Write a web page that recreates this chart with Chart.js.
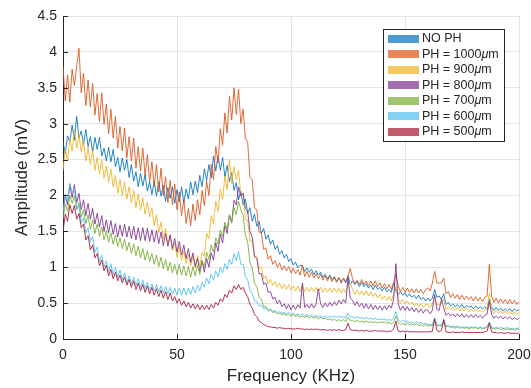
<!DOCTYPE html>
<html>
<head>
<meta charset="utf-8">
<script src="https://cdn.jsdelivr.net/npm/chart.js@4.4.1/dist/chart.umd.min.js"></script>
<style>
html, body { margin: 0; padding: 0; background: #fff; }
#wrap { width: 531px; height: 388px; }
</style>
</head>
<body>
<div id="wrap"><canvas id="ampChart" width="531" height="388"></canvas></div>
<script>
// frequency axis, KHz (one sample per KHz)
var freqKHz = [
	0,1,2,3,4,5,6,7,8,9,10,11,12,13,14,15,16,17,18,19,
	20,21,22,23,24,25,26,27,28,29,30,31,32,33,34,35,36,37,38,39,
	40,41,42,43,44,45,46,47,48,49,50,51,52,53,54,55,56,57,58,59,
	60,61,62,63,64,65,66,67,68,69,70,71,72,73,74,75,76,77,78,79,
	80,81,82,83,84,85,86,87,88,89,90,91,92,93,94,95,96,97,98,99,
	100,101,102,103,104,105,106,107,108,109,110,111,112,113,114,115,116,117,118,119,
	120,121,122,123,124,125,126,127,128,129,130,131,132,133,134,135,136,137,138,139,
	140,141,142,143,144,145,146,147,148,149,150,151,152,153,154,155,156,157,158,159,
	160,161,162,163,164,165,166,167,168,169,170,171,172,173,174,175,176,177,178,179,
	180,181,182,183,184,185,186,187,188,189,190,191,192,193,194,195,196,197,198,199,200
];

var seriesNames = ["NO PH", "PH = 1000\u03bcm", "PH = 900\u03bcm", "PH = 800\u03bcm", "PH = 700\u03bcm", "PH = 600\u03bcm", "PH = 500\u03bcm"];

// amplitudes in mV
var ampNoPh = [
	2.75,2.58,2.83,2.75,2.98,2.77,3.10,2.80,2.90,2.71, 2.92,2.68,2.82,2.60,2.81,2.64,2.81,2.55,2.66,2.48,
	2.67,2.47,2.64,2.40,2.53,2.33,2.52,2.35,2.50,2.25, 2.43,2.20,2.33,2.12,2.31,2.13,2.29,2.06,2.19,2.01,
	2.20,1.99,2.19,1.99,2.14,1.92,2.11,1.96,2.12,1.89, 2.08,1.91,2.12,1.90,2.09,1.95,2.19,2.01,2.20,2.04,
	2.28,2.12,2.37,2.21,2.43,2.25,2.55,2.34,2.55,2.35, 2.53,2.26,2.42,2.19,2.32,2.07,2.18,1.94,2.06,1.87,
	1.95,1.75,1.83,1.64,1.74,1.57,1.64,1.47,1.54,1.39, 1.45,1.32,1.38,1.25,1.30,1.18,1.23,1.13,1.18,1.08,
	1.12,1.03,1.07,0.99,1.03,1.02,0.94,0.99,0.93,0.97, 0.90,0.95,0.89,0.93,0.86,0.90,0.84,0.89,0.83,0.87,
	0.80,0.85,0.80,0.84,0.78,0.88,0.76,0.81,0.76,0.80, 0.73,0.79,0.73,0.77,0.71,0.75,0.69,0.75,0.69,0.72,
	0.67,0.72,0.66,0.69,0.65,0.78,0.67,0.62,0.66,0.61, 0.64,0.59,0.63,0.58,0.61,0.56,0.61,0.55,0.58,0.53,
	0.57,0.53,0.57,0.69,0.58,0.60,0.55,0.63,0.48,0.51, 0.46,0.49,0.45,0.48,0.44,0.48,0.43,0.47,0.44,0.46,
	0.42,0.46,0.42,0.45,0.42,0.45,0.41,0.55,0.44,0.40, 0.44,0.40,0.43,0.39,0.42,0.39,0.42,0.38,0.42,0.39,0.41
];
var amp1000 = [
	3.80,3.32,3.68,3.30,3.76,3.53,3.80,4.05,3.43,3.70, 3.25,3.61,3.23,3.56,3.12,3.42,3.03,3.43,2.99,3.27,
	2.86,3.20,2.80,3.10,2.66,2.96,2.62,2.94,2.52,2.82, 2.48,2.80,2.38,2.68,2.34,2.66,2.27,2.57,2.19,2.47,
	2.13,2.43,2.05,2.38,2.00,2.26,1.90,2.21,1.87,2.16, 1.80,2.05,1.72,1.94,1.61,1.82,1.58,1.88,1.65,1.94,
	1.73,2.07,1.86,2.20,2.00,2.43,2.22,2.68,2.45,2.93, 2.70,3.15,2.87,3.38,3.05,3.50,3.13,3.48,3.00,3.20,
	2.80,2.74,2.25,2.22,1.82,1.80,1.49,1.48,1.25,1.27, 1.11,1.16,1.04,1.09,1.00,1.06,0.96,1.02,0.95,1.01,
	0.92,0.99,0.91,0.97,0.89,1.03,0.87,0.94,0.86,0.93, 0.85,0.91,0.84,0.90,0.82,0.88,0.81,0.88,0.80,0.86,
	0.79,0.86,0.78,0.85,0.80,0.88,0.98,0.84,0.77,0.82, 0.76,0.83,0.76,0.81,0.74,0.81,0.74,0.81,0.73,0.78,
	0.71,0.77,0.70,0.76,0.69,0.79,0.90,0.74,0.66,0.72, 0.65,0.71,0.65,0.70,0.64,0.70,0.64,0.69,0.63,0.69,
	0.71,0.67,0.78,0.94,0.78,0.78,0.78,0.85,0.63,0.66, 0.58,0.63,0.57,0.62,0.55,0.61,0.55,0.60,0.55,0.59,
	0.53,0.59,0.53,0.58,0.52,0.58,0.60,1.04,0.60,0.51, 0.57,0.50,0.56,0.50,0.55,0.49,0.55,0.49,0.54,0.48,0.52
];
var amp900 = [
	2.35,2.64,2.48,2.80,2.62,2.92,2.66,2.85,2.60,2.77, 2.48,2.67,2.43,2.62,2.35,2.53,2.30,2.49,2.24,2.41,
	2.18,2.37,2.12,2.28,2.03,2.22,2.00,2.19,1.95,2.12, 1.90,2.07,1.83,2.02,1.80,1.97,1.74,1.91,1.70,1.83,
	1.58,1.73,1.48,1.63,1.39,1.54,1.32,1.45,1.23,1.34, 1.14,1.28,1.09,1.23,1.05,1.18,1.02,1.15,0.99,1.16,
	1.02,1.20,1.15,1.47,1.40,1.72,1.60,1.92,1.78,2.09, 1.95,2.27,2.08,2.50,2.17,2.40,2.22,2.35,2.00,2.03,
	1.67,1.66,1.36,1.37,1.14,1.15,0.98,1.00,0.84,0.88, 0.77,0.83,0.75,0.80,0.72,0.78,0.70,0.76,0.69,0.76,
	0.68,0.74,0.67,0.74,0.66,0.75,0.66,0.72,0.66,0.72, 0.66,0.72,0.66,0.72,0.65,0.71,0.65,0.71,0.65,0.71,
	0.65,0.71,0.64,0.70,0.65,0.74,0.78,0.69,0.62,0.68, 0.62,0.67,0.61,0.67,0.60,0.66,0.59,0.64,0.57,0.62,
	0.55,0.60,0.54,0.59,0.53,0.62,0.73,0.56,0.50,0.55, 0.49,0.53,0.48,0.52,0.46,0.50,0.45,0.49,0.44,0.48,
	0.48,0.44,0.49,0.60,0.48,0.48,0.50,0.56,0.41,0.45, 0.41,0.44,0.40,0.44,0.39,0.43,0.39,0.43,0.38,0.42,
	0.38,0.42,0.38,0.41,0.37,0.41,0.43,0.63,0.41,0.36, 0.40,0.36,0.39,0.35,0.39,0.35,0.38,0.34,0.38,0.34,0.37
];
var amp800 = [
	1.75,2.00,1.87,2.15,1.97,2.15,1.90,2.03,1.80,1.94, 1.72,1.89,1.67,1.82,1.60,1.75,1.56,1.72,1.50,1.66,
	1.48,1.65,1.46,1.61,1.42,1.59,1.43,1.60,1.42,1.57, 1.40,1.57,1.38,1.55,1.37,1.55,1.37,1.54,1.36,1.52,
	1.35,1.51,1.33,1.49,1.30,1.47,1.29,1.45,1.26,1.40, 1.21,1.36,1.17,1.31,1.12,1.26,1.07,1.20,1.01,1.12,
	0.94,1.09,0.93,1.12,1.00,1.20,1.10,1.34,1.22,1.46, 1.34,1.58,1.47,1.73,1.62,1.93,1.87,2.12,1.99,2.03,
	1.82,1.78,1.50,1.42,1.15,1.12,0.91,0.91,0.76,0.78, 0.65,0.66,0.56,0.58,0.49,0.54,0.45,0.49,0.42,0.48,
	0.41,0.47,0.41,0.48,0.43,0.78,0.44,0.48,0.43,0.49, 0.43,0.49,0.70,0.49,0.44,0.50,0.45,0.51,0.46,0.52,
	0.47,0.54,0.49,0.55,0.50,0.85,0.57,0.54,0.47,0.52, 0.45,0.50,0.43,0.49,0.42,0.48,0.41,0.47,0.41,0.46,
	0.40,0.46,0.41,0.47,0.43,0.55,1.05,0.49,0.40,0.46, 0.40,0.45,0.39,0.44,0.38,0.43,0.37,0.42,0.36,0.41,
	0.40,0.35,0.40,0.62,0.41,0.40,0.56,0.43,0.33,0.36, 0.32,0.35,0.31,0.35,0.31,0.35,0.30,0.34,0.30,0.34,
	0.30,0.34,0.30,0.33,0.29,0.33,0.35,0.52,0.34,0.29, 0.32,0.29,0.32,0.28,0.31,0.28,0.31,0.27,0.30,0.27,0.29
];
var amp700 = [
	1.67,1.88,1.78,2.00,1.89,2.00,1.80,1.90,1.70,1.80, 1.61,1.73,1.53,1.66,1.47,1.60,1.43,1.56,1.38,1.51,
	1.35,1.48,1.32,1.45,1.29,1.41,1.26,1.39,1.23,1.35, 1.19,1.32,1.16,1.29,1.13,1.26,1.10,1.23,1.08,1.19,
	1.04,1.17,1.01,1.14,0.98,1.11,0.95,1.07,0.92,1.04, 0.90,1.04,0.89,1.02,0.88,1.01,0.86,1.01,0.88,1.03,
	0.90,1.09,1.00,1.21,1.11,1.31,1.21,1.41,1.32,1.52, 1.43,1.63,1.53,1.73,1.63,1.83,1.73,1.92,1.80,1.72,
	1.45,1.35,1.06,0.99,0.77,0.73,0.58,0.55,0.45,0.45, 0.39,0.41,0.37,0.38,0.35,0.36,0.34,0.35,0.33,0.34,
	0.32,0.34,0.31,0.33,0.30,0.32,0.30,0.32,0.29,0.31, 0.29,0.31,0.28,0.30,0.28,0.29,0.27,0.28,0.26,0.28,
	0.25,0.27,0.25,0.27,0.24,0.30,0.26,0.26,0.24,0.26, 0.24,0.25,0.23,0.25,0.23,0.24,0.23,0.24,0.22,0.24,
	0.23,0.24,0.22,0.23,0.21,0.24,0.32,0.23,0.20,0.22, 0.20,0.22,0.20,0.21,0.19,0.21,0.19,0.20,0.18,0.20,
	0.18,0.19,0.18,0.26,0.18,0.19,0.18,0.24,0.17,0.18, 0.16,0.17,0.15,0.17,0.15,0.16,0.15,0.16,0.14,0.16,
	0.15,0.16,0.14,0.16,0.14,0.15,0.16,0.23,0.15,0.14, 0.14,0.15,0.13,0.15,0.13,0.14,0.13,0.14,0.12,0.14,0.13
];
var amp600 = [
	1.77,2.02,1.92,2.17,2.04,2.10,1.82,1.86,1.62,1.69, 1.48,1.55,1.35,1.43,1.21,1.28,1.08,1.17,1.01,1.09,
	0.94,1.05,0.90,1.00,0.86,0.96,0.82,0.92,0.78,0.88, 0.76,0.86,0.74,0.84,0.72,0.82,0.70,0.79,0.68,0.77,
	0.67,0.76,0.65,0.74,0.64,0.73,0.63,0.72,0.62,0.71, 0.61,0.71,0.61,0.71,0.61,0.71,0.62,0.73,0.64,0.75,
	0.67,0.79,0.72,0.85,0.77,0.90,0.82,0.95,0.87,1.00, 0.92,1.05,0.97,1.11,1.04,1.19,1.09,1.22,1.04,1.04,
	0.87,0.83,0.67,0.63,0.53,0.52,0.46,0.47,0.42,0.43, 0.40,0.42,0.38,0.40,0.37,0.38,0.36,0.37,0.35,0.37,
	0.34,0.36,0.33,0.35,0.33,0.35,0.32,0.34,0.32,0.33, 0.31,0.33,0.31,0.32,0.30,0.32,0.30,0.32,0.30,0.32,
	0.30,0.32,0.30,0.31,0.29,0.36,0.31,0.31,0.29,0.31, 0.29,0.30,0.28,0.30,0.28,0.29,0.27,0.29,0.27,0.28,
	0.27,0.28,0.26,0.27,0.26,0.30,0.38,0.27,0.24,0.26, 0.24,0.25,0.23,0.24,0.22,0.24,0.22,0.23,0.21,0.22,
	0.20,0.21,0.20,0.30,0.20,0.19,0.20,0.27,0.18,0.19, 0.17,0.18,0.17,0.18,0.16,0.17,0.16,0.17,0.16,0.17,
	0.16,0.17,0.15,0.17,0.15,0.16,0.17,0.24,0.16,0.15, 0.16,0.15,0.16,0.15,0.15,0.16,0.14,0.15,0.14,0.15,0.15
];
var amp500 = [
	1.50,1.74,1.64,1.87,1.75,1.86,1.67,1.75,1.55,1.60, 1.38,1.44,1.24,1.31,1.13,1.19,1.02,1.10,0.95,1.03,
	0.88,0.97,0.84,0.93,0.81,0.89,0.78,0.86,0.75,0.83, 0.72,0.81,0.69,0.78,0.67,0.76,0.65,0.74,0.63,0.72,
	0.61,0.70,0.59,0.68,0.57,0.66,0.55,0.64,0.53,0.59, 0.50,0.56,0.47,0.53,0.45,0.51,0.43,0.49,0.42,0.48,
	0.41,0.47,0.41,0.47,0.41,0.48,0.43,0.51,0.47,0.56, 0.52,0.62,0.58,0.68,0.64,0.74,0.69,0.76,0.69,0.72,
	0.64,0.59,0.48,0.43,0.34,0.31,0.25,0.23,0.20,0.19, 0.17,0.17,0.16,0.16,0.15,0.16,0.15,0.15,0.14,0.15,
	0.14,0.14,0.14,0.15,0.14,0.14,0.13,0.14,0.13,0.14, 0.13,0.14,0.13,0.13,0.13,0.13,0.12,0.13,0.12,0.13,
	0.12,0.13,0.12,0.12,0.13,0.22,0.13,0.12,0.12,0.12, 0.11,0.12,0.11,0.12,0.11,0.11,0.11,0.12,0.11,0.11,
	0.11,0.11,0.10,0.11,0.11,0.14,0.25,0.11,0.10,0.11, 0.10,0.11,0.10,0.10,0.10,0.10,0.10,0.10,0.10,0.10,
	0.10,0.10,0.11,0.28,0.12,0.10,0.12,0.27,0.10,0.09, 0.09,0.10,0.09,0.09,0.09,0.10,0.09,0.09,0.09,0.09,
	0.09,0.09,0.09,0.09,0.09,0.10,0.11,0.22,0.10,0.09, 0.09,0.08,0.09,0.08,0.08,0.09,0.08,0.08,0.08,0.08,0.08
];

var allAmps = [ampNoPh, amp1000, amp900, amp800, amp700, amp600, amp500];

// matlab default line colours, lighter ones for the legend patches
var lineColors = ["rgba(0,114,189,0.85)", "rgba(217,83,25,0.85)", "rgba(237,177,32,0.85)", "rgba(126,47,142,0.85)", "rgba(119,172,48,0.85)", "rgba(77,190,238,0.85)", "rgba(162,20,47,0.85)"];
var patchColors = ["#4d9bd1", "#e8865e", "#f3c862", "#a46bb0", "#9fc56f", "#83d2f3", "#c25b6e"];

var ink = "#262626";
var fontName = "'Liberation Sans', Arial, sans-serif";

var datasets = allAmps.map(function (amps, i) {
	return {
		label: seriesNames[i],
		data: amps.map(function (v, k) { return { x: freqKHz[k], y: v }; }),
		borderColor: lineColors[i],
		borderWidth: 1,
		pointRadius: 0,
		tension: 0,
		fill: false,
		order: allAmps.length - i	// later series on top, like matlab
	};
});

// ticks pointing into the plot
var innerTicks = {
	id: "innerTicks",
	afterDatasetsDraw: function (chart) {
		var c = chart.ctx, a = chart.chartArea, xs = chart.scales.x, ys = chart.scales.y;
		c.save();
		c.strokeStyle = ink;
		c.lineWidth = 1;
		c.beginPath();
		xs.ticks.forEach(function (t) {
			var px = Math.round(xs.getPixelForValue(t.value)) + 0.5;
			c.moveTo(px, a.bottom);
			c.lineTo(px, a.bottom - 5);
		});
		ys.ticks.forEach(function (t) {
			var py = Math.round(ys.getPixelForValue(t.value)) + 0.5;
			c.moveTo(a.left, py);
			c.lineTo(a.left + 5, py);
		});
		c.stroke();
		c.restore();
	}
};

// boxed legend in the top right corner
var boxLegend = {
	id: "boxLegend",
	afterDraw: function (chart) {
		var c = chart.ctx;
		var bx = 383.5, by = 29.5, bw = 121, bh = 112;
		var fs = "12.5px ";
		c.save();
		c.fillStyle = "#fff";
		c.fillRect(bx, by, bw, bh);
		c.strokeStyle = ink;
		c.lineWidth = 1;
		c.strokeRect(bx, by, bw, bh);
		c.textBaseline = "middle";
		chart.data.datasets.forEach(function (ds, i) {
			var cy = 38.5 + i * 15.55;
			c.fillStyle = patchColors[i];
			c.fillRect(388, Math.round(cy - 4), 31, 8);
			var parts = ds.label.split("\u03bc");
			var tx = 422;
			c.fillStyle = ink;
			c.font = fs + fontName;
			c.fillText(parts[0], tx, cy);
			if (parts.length > 1) {
				tx += c.measureText(parts[0]).width;
				c.font = "italic " + fs + fontName;
				c.fillText("\u03bc", tx, cy);
				tx += c.measureText("\u03bc").width;
				c.font = fs + fontName;
				c.fillText(parts[1], tx, cy);
			}
		});
		c.restore();
	}
};

var ctx = document.getElementById("ampChart");

var chart = new Chart(ctx, {
	type: "line",
	data: { datasets: datasets },
	options: {
		responsive: false,
		animation: false,
		devicePixelRatio: 1,
		layout: { padding: { left: 0, right: 12, top: 16, bottom: 0 } },
		plugins: { legend: { display: false }, tooltip: { enabled: false } },
		scales: {
			x: {
				type: "linear",
				min: 0,
				max: 200,
				// fixed height, and let the end labels hang over the padding
				afterFit: function (s) { s.height = 49; s.paddingLeft = 0; s.paddingRight = 0; },
				ticks: { stepSize: 50, color: ink, padding: 8, font: { family: fontName, size: 14 }, maxRotation: 0 },
				grid: { color: "#e3e3e3", drawTicks: false },
				border: { color: ink, width: 1 },
				title: { display: true, text: "Frequency (KHz)", color: ink, font: { family: fontName, size: 17 }, padding: { top: 0, bottom: 1 } }
			},
			y: {
				min: 0,
				max: 4.5,
				afterFit: function (s) { s.width = 63; s.paddingTop = 0; s.paddingBottom = 0; },
				ticks: {
					stepSize: 0.5, color: ink, padding: 6, font: { family: fontName, size: 14 },
					callback: function (v) { return String(Math.round(v * 10) / 10); }
				},
				grid: { color: "#e3e3e3", drawTicks: false },
				border: { color: ink, width: 1 },
				title: { display: true, text: "Amplitude (mV)", color: ink, font: { family: fontName, size: 17 }, padding: { top: 12, bottom: 0 } }
			}
		}
	},
	plugins: [innerTicks, boxLegend]
});
</script>
</body>
</html>
